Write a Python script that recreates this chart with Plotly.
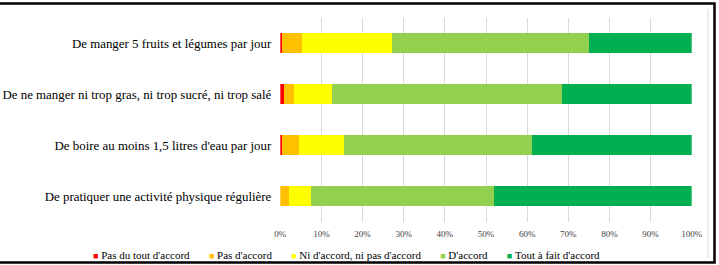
import plotly.graph_objects as go

W, H = 719, 265

categories = [
    "De manger 5 fruits et légumes par jour",
    "De ne manger ni trop gras, ni trop sucré, ni trop salé",
    "De boire au moins 1,5 litres d'eau par jour",
    "De pratiquer une activité physique régulière",
]
series_names = [
    "Pas du tout d'accord",
    "Pas d'accord",
    "Ni d'accord, ni pas d'accord",
    "D'accord",
    "Tout à fait d'accord",
]
pas_du_tout = [0.5, 0.8, 0.4, 0.0]
pas_accord = [4.7, 2.5, 4.2, 2.1]
ni_ni = [22.0, 9.3, 10.9, 5.4]
accord = [47.8, 55.9, 45.8, 44.5]
tout_a_fait = [25.0, 31.5, 38.7, 48.0]
series_values = [pas_du_tout, pas_accord, ni_ni, accord, tout_a_fait]
colors = ["#FF0000", "#FFC000", "#FFFF00", "#92D050", "#00B050"]
tick_vals = [0, 10, 20, 30, 40, 50, 60, 70, 80, 90, 100]
tick_text = ["0%", "10%", "20%", "30%", "40%", "50%", "60%", "70%", "80%", "90%", "100%"]

SERIF = "Liberation Serif"

fig = go.Figure()
for name, vals, col in zip(series_names, series_values, colors):
    fig.add_trace(go.Bar(
        y=categories, x=vals, name=name, orientation="h",
        marker=dict(color=col, line=dict(width=0)),
        showlegend=False,
    ))

def px(x):
    return x / W

def py(y):
    return 1 - y / H

# legend drawn as one line of real text (coloured squares + series names)
legend_parts = []
for name, col in zip(series_names, colors):
    legend_parts.append(
        f"<span style='color:{col};font-size:9px'>■</span>&nbsp;{name}"
    )
legend_text = ("&nbsp;" * 7).join(legend_parts)

fig.update_layout(
    width=W, height=H, autosize=False,
    margin=dict(l=0, r=0, t=0, b=0, pad=0, autoexpand=False),
    paper_bgcolor="white", plot_bgcolor="white",
    barmode="stack", bargap=0.6, showlegend=False,
    font=dict(family=SERIF, color="#000000"),
    xaxis=dict(
        domain=[px(280.3), px(691.7)], automargin=False,
        range=[0, 100], tickvals=tick_vals, ticktext=tick_text,
        showgrid=True, gridcolor="#D9D9D9", gridwidth=1,
        zeroline=False, showline=False, ticks="",
        tickfont=dict(family=SERIF, size=9, color="#404040"), ticklabelstandoff=5,
    ),
    yaxis=dict(
        domain=[py(221.5), py(17.5)], automargin=False,
        autorange="reversed", type="category",
        showgrid=False, zeroline=False, showline=False, ticks="",
        tickfont=dict(family=SERIF, size=12.9, color="#000000"), ticklabelstandoff=8,
    ),
    annotations=[
        dict(text=legend_text, xref="paper", yref="paper", x=px(346.5), y=py(255),
             xanchor="center", yanchor="middle", showarrow=False,
             font=dict(family=SERIF, size=11, color="#000000")),
    ],
    shapes=[
        dict(type="line", xref="paper", yref="paper", x0=px(708), x1=px(708), y0=py(9), y1=py(258),
             line=dict(color="#D9D9D9", width=1)),
        dict(type="rect", xref="paper", yref="paper", x0=px(-10), x1=px(714.5), y0=py(262.5), y1=py(3.5),
             line=dict(color="#000000", width=2.5), fillcolor="rgba(0,0,0,0)"),
    ],
)

fig.write_html("out.html", config={"responsive": False})
